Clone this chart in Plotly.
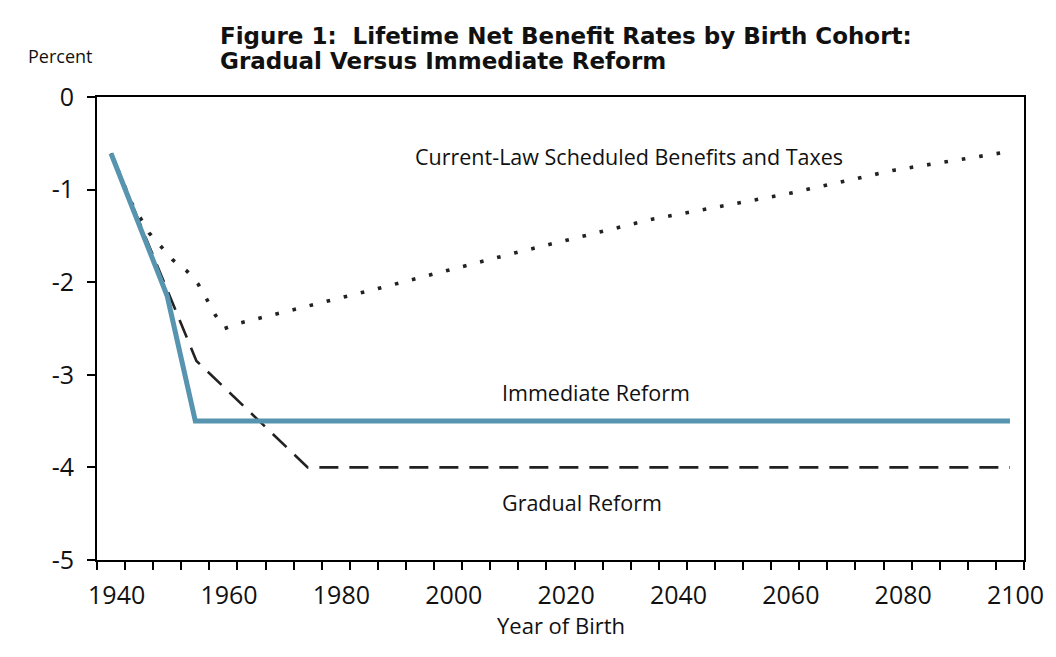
import plotly.graph_objects as go

# ---- data ----
current_years = [1939.0, 1942.7, 1945.8, 1947.9, 1950.0, 1952.5, 1954.5, 1956.0, 1957.5, 1959.2,
                 1962.0, 1986.4, 2010.8, 2035.3, 2059.8, 2078.4, 2097.8]
current_vals = [-0.61, -1.15, -1.47, -1.62, -1.76, -1.88, -2.02, -2.18, -2.35, -2.50,
                -2.44, -2.07, -1.685, -1.32, -1.04, -0.79, -0.60]

immediate_years = [1939.0, 1949.0, 1954.0, 2099.0]
immediate_vals = [-0.61, -2.15, -3.50, -3.50]

gradual_years = [1939.0, 1954.2, 1974.0, 2099.0]
gradual_vals = [-0.61, -2.85, -4.00, -4.00]

y_tickvals = [0, -1, -2, -3, -4, -5]
y_ticktext = ["0", "-1", "-2", "-3", "-4", "-5"]
x_tickvals = [1940, 1960, 1980, 2000, 2020, 2040, 2060, 2080, 2100]
x_ticktext = [str(v) for v in x_tickvals]

FONT = "Open Sans"
TXT = "#111111"

fig = go.Figure()
fig.add_trace(go.Scatter(x=current_years, y=current_vals, mode="lines",
                         line=dict(color="#222222", width=3.6, dash="3.6px,14px"),
                         name="Current-Law Scheduled Benefits and Taxes"))
fig.add_trace(go.Scatter(x=gradual_years, y=gradual_vals, mode="lines",
                         line=dict(color="#222222", width=2.6, dash="19px,11px"),
                         name="Gradual Reform"))
fig.add_trace(go.Scatter(x=immediate_years, y=immediate_vals, mode="lines",
                         line=dict(color="#5794B0", width=5),
                         name="Immediate Reform"))

# the page body adds an 8px offset, so the figure is 8px smaller and margins shifted
fig.update_layout(
    width=1048, height=649,
    margin=dict(l=89, r=29, t=89, b=97),
    paper_bgcolor="white", plot_bgcolor="white",
    showlegend=False,
    font=dict(family=FONT, color=TXT),
)
# category-style year axis: labels centred on years, tick marks on 5-year boundaries
fig.update_xaxes(range=[1936.5, 2101.5], tickvals=x_tickvals, ticktext=x_ticktext,
                 ticks="outside", ticklen=8, tickwidth=0, tickcolor="rgba(0,0,0,0)",
                 minor=dict(tick0=1936.5, dtick=5, ticks="outside", ticklen=8, tickwidth=1.5, tickcolor="black"),
                 showline=True, linecolor="black", linewidth=2, mirror=True,
                 showgrid=False, zeroline=False,
                 tickfont=dict(family=FONT, size=25, color=TXT),
                 ticklabelstandoff=4, ticklabeloverflow="allow")
fig.update_yaxes(range=[-5, 0], tickvals=y_tickvals, ticktext=y_ticktext,
                 ticks="outside", ticklen=8, tickwidth=1.5, tickcolor="black",
                 showline=True, linecolor="black", linewidth=2, mirror=True,
                 showgrid=False, zeroline=False,
                 tickfont=dict(family=FONT, size=25, color=TXT),
                 ticklabelstandoff=8, ticklabeloverflow="allow")

ann_font = dict(family=FONT, size=21.5, color=TXT)
fig.add_annotation(x=1992.8, y=-0.64, xref="x", yref="y", text="Current-Law Scheduled Benefits and Taxes",
                   showarrow=False, xanchor="left", yanchor="middle", font=ann_font)
fig.add_annotation(x=2008.3, y=-3.19, xref="x", yref="y", text="Immediate Reform",
                   showarrow=False, xanchor="left", yanchor="middle", font=ann_font)
fig.add_annotation(x=2008.3, y=-4.38, xref="x", yref="y", text="Gradual Reform",
                   showarrow=False, xanchor="left", yanchor="middle", font=ann_font)

# title lines
title_font = dict(family="DejaVu Sans", size=23, color=TXT, weight="bold")
fig.add_annotation(x=(218 - 97) / 930, y=(560 - 37) / 462.5, xref="paper", yref="paper",
                   text="Figure 1:  Lifetime Net Benefit Rates by Birth Cohort:",
                   showarrow=False, xanchor="left", yanchor="middle", font=title_font)
fig.add_annotation(x=(218 - 97) / 930, y=(560 - 62) / 462.5, xref="paper", yref="paper",
                   text="Gradual Versus Immediate Reform",
                   showarrow=False, xanchor="left", yanchor="middle", font=title_font)
fig.add_annotation(x=(94 - 97) / 930, y=(560 - 57) / 462.5, xref="paper", yref="paper",
                   text="Percent", showarrow=False, xanchor="right", yanchor="middle",
                   font=dict(family=FONT, size=18, color=TXT))
fig.add_annotation(x=(562 - 97) / 930, y=(560 - 625) / 462.5, xref="paper", yref="paper",
                   text="Year of Birth", showarrow=False, xanchor="center", yanchor="middle",
                   font=dict(family=FONT, size=22, color=TXT))

fig.write_html("out.html")
